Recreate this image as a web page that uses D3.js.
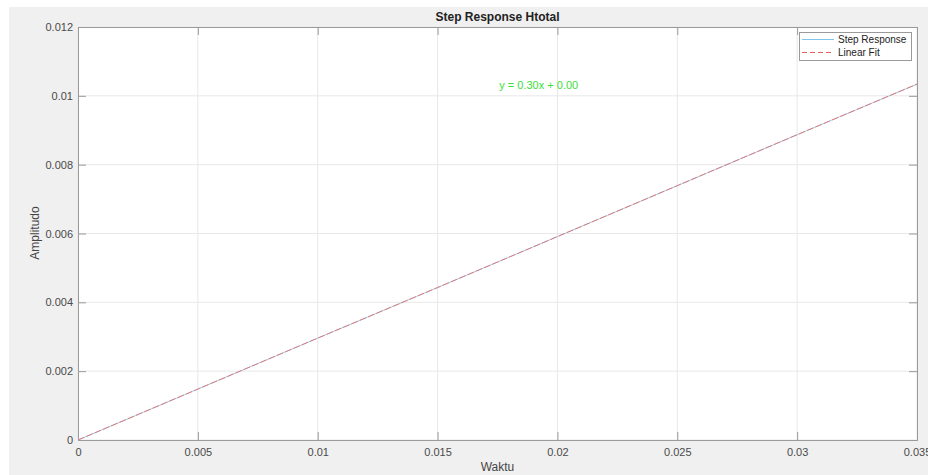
<!DOCTYPE html>
<html><head><meta charset="utf-8">
<script src="https://cdn.jsdelivr.net/npm/d3@7"></script>
<style>body{margin:0;background:#fff}svg{display:block}text{font-family:"Liberation Sans",Arial,sans-serif}</style>
</head><body><svg id="c" width="928" height="475"></svg>
<script>
const timeValues = [0, 0.005, 0.01, 0.015, 0.02, 0.025, 0.03, 0.035];
const stepValues = [0, 0.00148, 0.00296, 0.00443, 0.00591, 0.00739, 0.00887, 0.01034];
const fitValues  = [0, 0.00148, 0.00296, 0.00443, 0.00591, 0.00739, 0.00887, 0.01034];
const xTicks = [0, 0.005, 0.01, 0.015, 0.02, 0.025, 0.03, 0.035];
const yTicks = [0, 0.002, 0.004, 0.006, 0.008, 0.01, 0.012];
const seriesNames = ["Step Response", "Linear Fit"];
const fitLabel = "y = 0.30x + 0.00";

const svg = d3.select("#c");
const L = 78, T = 27, R = 917, B = 440;
svg.append("rect").attr("x", 9).attr("y", 7).attr("width", 919).attr("height", 468).attr("fill", "#f0f0f0");
svg.append("rect").attr("x", L).attr("y", T).attr("width", R - L).attr("height", B - T).attr("fill", "#fff");

const x = d3.scaleLinear().domain([0, 0.035]).range([L, R]);
const y = d3.scaleLinear().domain([0, 0.012]).range([B, T]);

const g = svg.append("g");
g.selectAll(".gx").data(xTicks).join("line").attr("x1", d => x(d)).attr("x2", d => x(d)).attr("y1", T).attr("y2", B).attr("stroke", "#e8e8e8");
g.selectAll(".gy").data(yTicks).join("line").attr("y1", d => y(d)).attr("y2", d => y(d)).attr("x1", L).attr("x2", R).attr("stroke", "#e8e8e8");

const axCol = "#9a9a9a", txtCol = "#4a4a4a";
const fmt = d => d3.format("")(+d.toPrecision(3));
const xb = svg.append("g").attr("transform", `translate(0,${B})`).call(d3.axisBottom(x).tickValues(xTicks).tickFormat(fmt).tickSize(-8).tickPadding(6));
const xt = svg.append("g").attr("transform", `translate(0,${T})`).call(d3.axisTop(x).tickValues(xTicks).tickFormat("").tickSize(-8));
const yl = svg.append("g").attr("transform", `translate(${L},0)`).call(d3.axisLeft(y).tickValues(yTicks).tickFormat(fmt).tickSize(-8).tickPadding(5));
const yr = svg.append("g").attr("transform", `translate(${R},0)`).call(d3.axisRight(y).tickValues(yTicks).tickFormat("").tickSize(-8));
[xb, xt, yl, yr].forEach(a => {
  a.select(".domain").attr("stroke", axCol);
  a.selectAll(".tick line").attr("stroke", axCol);
  a.selectAll("text").attr("fill", txtCol).attr("font-size", 11).attr("font-family", "Liberation Sans, Arial, sans-serif");
});
xb.selectAll("text").attr("dy", "0.71em").attr("y", 8);

const pts = timeValues.map((t, i) => [t, stepValues[i]]);
const fpts = timeValues.map((t, i) => [t, fitValues[i]]);
const line = d3.line().x(d => x(d[0])).y(d => y(d[1]));
svg.append("path").datum(pts).attr("d", line).attr("fill", "none").attr("stroke", "#9fd3f0").attr("stroke-width", 1);
svg.append("path").datum(fpts).attr("d", line).attr("fill", "none").attr("stroke", "#e07878").attr("stroke-width", 1).attr("stroke-dasharray", "7,2");

svg.append("text").attr("x", (L + R) / 2).attr("y", 21).attr("text-anchor", "middle").attr("font-weight", "bold").attr("font-size", 12).attr("fill", "#222").text("Step Response Htotal");
svg.append("text").attr("x", (L + R) / 2).attr("y", 471).attr("text-anchor", "middle").attr("font-size", 12).attr("fill", "#444").text("Waktu");
svg.append("text").attr("transform", `translate(39,233) rotate(-90)`).attr("text-anchor", "middle").attr("font-size", 12).attr("fill", "#444").text("Amplitudo");
svg.append("text").attr("x", x(0.01922)).attr("y", 89).attr("text-anchor", "middle").attr("font-size", 11).attr("fill", "#3ade3a").text(fitLabel);

const lg = svg.append("g");
lg.append("rect").attr("x", 799.5).attr("y", 32.5).attr("width", 112).attr("height", 28).attr("fill", "#fff").attr("stroke", "#9a9a9a");
const legStyles = [{c: "#7fc4ec", d: null}, {c: "#e06060", d: "5,3"}];
seriesNames.forEach((n, i) => {
  const yy = 39.5 + i * 13;
  const l = lg.append("line").attr("x1", 802).attr("x2", 834).attr("y1", yy).attr("y2", yy).attr("stroke", legStyles[i].c);
  if (legStyles[i].d) l.attr("stroke-dasharray", legStyles[i].d);
  lg.append("text").attr("x", 838).attr("y", yy + 3.5).attr("font-size", 10).attr("fill", "#222").text(n);
});
</script></body></html>
